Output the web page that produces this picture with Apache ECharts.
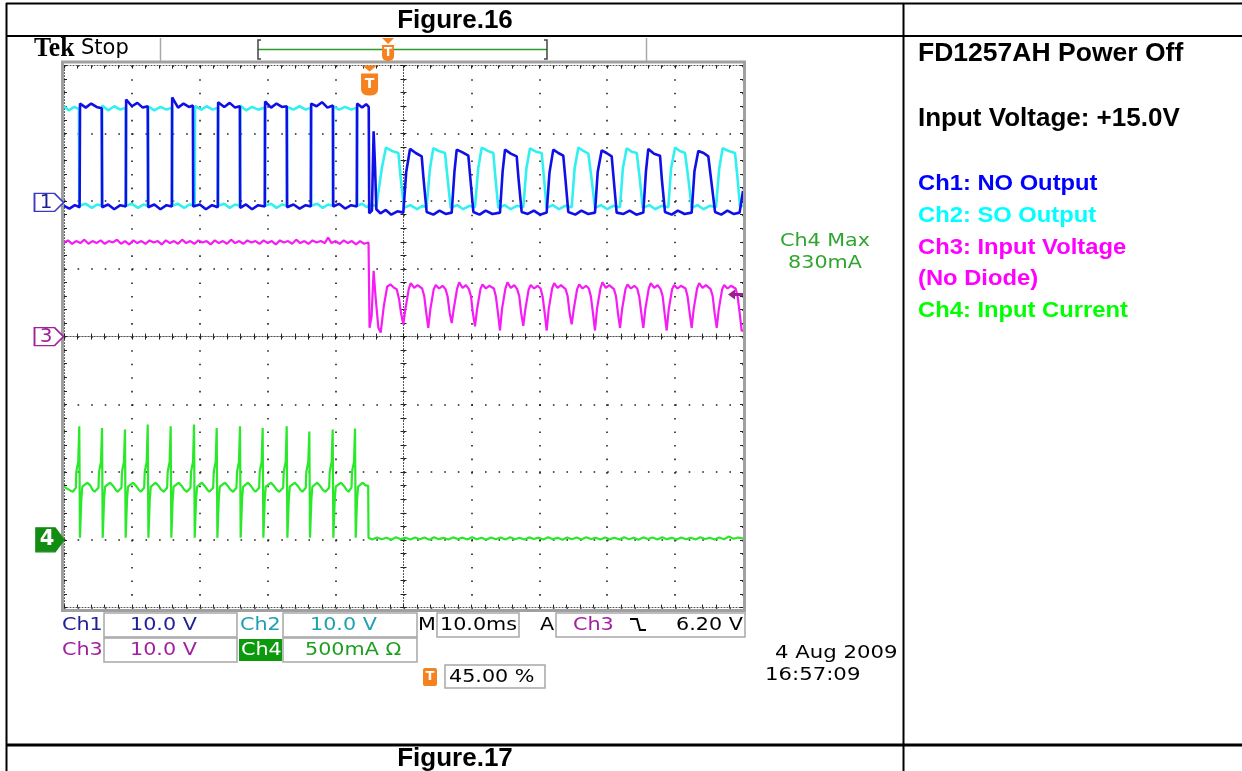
<!DOCTYPE html>
<html><head><meta charset="utf-8">
<script src="https://cdn.jsdelivr.net/npm/echarts@6/dist/echarts.min.js"></script>
<style>html,body{margin:0;padding:0;background:#fff;}#c{width:1242px;height:771px;}</style>
</head><body><div id="c"></div>
<script>
// ---------- scope settings ----------
const TIME_PER_DIV_MS = 10;
const TRIGGER_POSITION_PCT = 45;
const CH1_VOLTS_PER_DIV = 10, CH1_OFFSET_DIV = 1.98;
const CH2_VOLTS_PER_DIV = 10, CH2_OFFSET_DIV = 1.98;
const CH3_VOLTS_PER_DIV = 10, CH3_OFFSET_DIV = 0;
const CH4_MA_PER_DIV = 500, CH4_OFFSET_DIV = -3;
const CH3_TRIGGER_LEVEL_V = 6.20;

// ---------- traces: [time ms from left edge, value] ----------
const CH1_NO_OUTPUT = [
 [0,-0.5],[0.8,-0.9],[1.6,-0.4],[2.3,-0.7],[2.36,14.6],[3.2,14.0],[4.0,14.6],[4.8,14.1],[5.55,13.9],[5.62,-0.7],[6.5,-0.3],[7.4,-1.0],[8.3,-0.4],[9.1,-0.6],
 [9.15,15.2],[10.0,14.2],[10.8,14.7],[11.6,14.0],[12.33,14.2],[12.4,-0.7],[13.3,-0.3],[14.2,-1.0],[15.1,-0.4],[15.88,-0.6],
 [15.93,15.5],[16.8,14.0],[17.6,14.6],[18.4,14.1],[18.98,14.3],[19.03,-0.6],[20.0,-0.3],[20.9,-1.0],[21.8,-0.4],[22.65,-0.7],
 [22.7,14.8],[23.6,14.1],[24.4,14.7],[25.2,14.0],[25.9,14.2],[25.95,-0.8],[26.8,-0.3],[27.7,-1.0],[28.6,-0.4],[29.57,-0.6],
 [29.62,14.9],[30.5,14.0],[31.3,14.6],[32.1,14.1],[32.8,14.2],[32.86,-0.7],[33.8,-0.3],[34.7,-0.9],[35.6,-0.4],[36.35,-0.6],
 [36.4,14.6],[37.2,14.2],[38.0,14.8],[38.8,14.0],[39.6,14.3],[39.65,-0.6],[40.5,-0.2],[41.4,-0.9],[42.3,-0.4],[43.12,-0.6],
 [43.17,14.6],[43.9,14.0],[44.5,14.5],[44.88,14.1],
 [44.95,-1.6],[45.35,-1.2],[45.6,10.5],[45.8,5.5],[46.0,-1.0],[46.6,-1.6],[47.4,-1.1],[48.2,-1.8],[49.1,-1.3],[49.97,-1.5],
 [50.4,4.5],[50.96,7.9],[51.8,7.3],[52.68,6.8],[52.95,3.5],[53.41,-1.4],[54.4,-1.8],[55.3,-1.2],[56.2,-1.7],[57.1,-1.5],
 [57.5,4.5],[57.84,7.8],[58.7,7.4],[59.55,6.9],[59.85,3.5],[60.29,-1.4],[61.2,-1.8],[62.1,-1.2],[63.1,-1.7],[64.21,-1.5],
 [64.6,4.6],[64.95,7.8],[65.8,7.2],[66.67,6.8],[66.95,3.4],[67.4,-1.4],[68.3,-1.7],[69.2,-1.2],[70.1,-1.8],[71.08,-1.5],
 [71.5,4.4],[72.06,7.8],[72.8,7.3],[73.53,6.9],[73.85,3.4],[74.27,-1.4],[75.3,-1.8],[76.2,-1.2],[77.2,-1.7],[78.2,-1.5],
 [78.6,4.5],[79.19,7.7],[79.9,7.3],[80.66,6.8],[80.95,3.5],[81.39,-1.5],[82.4,-1.7],[83.3,-1.2],[84.3,-1.8],[85.32,-1.5],
 [85.7,4.5],[86.05,7.9],[86.9,7.2],[87.78,6.9],[88.05,3.4],[88.51,-1.4],[89.5,-1.8],[90.4,-1.2],[91.4,-1.7],[92.44,-1.5],
 [92.85,4.6],[93.42,7.6],[94.2,7.3],[94.89,6.8],[95.3,3.4],[95.88,-1.4],[96.8,-1.8],[97.7,-1.2],[98.6,-1.7],[99.5,-1.5],[100,1.7]
];
const CH2_SO_OUTPUT = [
 [0,14.2],[0.7,13.6],[1.5,14.1],[2.2,13.8],[2.25,-0.5],[3.2,-0.2],[4.1,-0.8],[4.9,-0.3],[5.58,-0.5],
 [5.63,14.3],[6.5,13.6],[7.4,14.2],[8.3,13.7],[9.1,14.0],[9.15,-0.5],[10.0,-0.2],[10.9,-0.8],[11.7,-0.3],[12.35,-0.5],
 [12.4,14.2],[13.3,13.6],[14.2,14.1],[15.1,13.7],[15.9,14.0],[15.95,-0.5],[16.8,-0.2],[17.7,-0.8],[18.5,-0.3],[19.25,-0.5],
 [19.3,14.2],[20.2,13.7],[21.0,14.2],[21.9,13.7],[22.66,14.0],[22.71,-0.5],[23.6,-0.2],[24.4,-0.8],[25.2,-0.3],[25.9,-0.5],
 [25.95,14.3],[26.8,13.6],[27.7,14.1],[28.6,13.7],[29.58,14.0],[29.63,-0.5],[30.5,-0.2],[31.3,-0.8],[32.1,-0.3],[32.82,-0.5],
 [32.87,14.1],[33.8,13.7],[34.7,14.2],[35.6,13.7],[36.36,14.0],[36.41,-0.5],[37.3,-0.2],[38.1,-0.8],[38.9,-0.3],[39.6,-0.5],
 [39.65,14.2],[40.5,13.7],[41.4,14.1],[42.3,13.7],[43.13,14.0],[43.18,-0.5],[43.9,-0.2],[44.6,-0.7],[45.3,-0.3],[46.0,-0.6],[46.29,-0.5],
 [46.8,5.0],[47.42,8.1],[48.3,7.6],[49.24,7.3],[49.6,3.5],[50.07,-0.8],[51.0,-0.4],[52.0,-1.0],[52.8,-0.5],[53.4,-0.7],
 [53.9,5.0],[54.39,8.0],[55.2,7.6],[56.11,7.3],[56.5,3.5],[56.95,-0.8],[57.9,-0.4],[58.8,-1.0],[59.7,-0.5],[60.53,-0.7],
 [61.0,5.0],[61.52,8.1],[62.4,7.6],[63.23,7.3],[63.55,3.5],[63.96,-0.8],[64.9,-0.4],[65.8,-1.0],[66.7,-0.5],[67.64,-0.7],
 [68.1,5.0],[68.63,8.0],[69.5,7.5],[70.35,7.3],[70.7,3.5],[71.08,-0.8],[72.0,-0.4],[72.9,-1.0],[73.8,-0.5],[74.77,-0.7],
 [75.2,5.0],[75.75,8.1],[76.5,7.6],[77.22,7.2],[77.7,3.5],[78.2,-0.8],[79.1,-0.4],[80.0,-1.0],[80.9,-0.5],[81.89,-0.7],
 [82.3,5.0],[82.87,8.0],[83.6,7.5],[84.35,7.3],[84.8,3.5],[85.23,-0.8],[86.2,-0.4],[87.1,-1.0],[88.0,-0.5],[89.0,-0.7],
 [89.4,5.0],[90.0,8.1],[90.7,7.6],[91.46,7.3],[91.95,3.5],[92.44,-0.8],[93.3,-0.4],[94.2,-1.0],[95.1,-0.5],[96.02,-0.7],
 [96.5,5.0],[97.0,8.0],[97.9,7.6],[98.82,7.3],[99.2,3.5],[99.56,-0.6],[100,-0.5]
];
const CH3_INPUT_VOLTAGE = [
 [0,13.9],[0.6,14.2],[1.2,13.7],[1.8,14.1],[2.4,13.8],[3.0,14.3],[3.6,13.7],[4.2,14.1],[4.8,13.8],[5.4,14.2],[6.0,13.7],[6.6,14.1],[7.2,13.9],[7.8,14.3],[8.4,13.7],[9.0,14.1],[9.6,13.6],[10.2,14.2],[10.8,13.8],[11.4,14.1],[12.0,13.7],[12.6,14.2],[13.2,13.9],[13.8,14.1],[14.4,13.6],[15.0,14.2],[15.6,13.8],[16.2,14.1],[16.8,13.7],[17.4,14.3],[18.0,13.8],[18.6,14.1],[19.2,13.7],[19.8,14.2],[20.4,13.9],[21.0,14.1],[21.6,13.6],[22.2,14.2],[22.8,13.8],[23.4,14.1],[24.0,13.7],[24.6,14.3],[25.2,13.8],[25.8,14.1],[26.4,13.7],[27.0,14.2],[27.6,13.9],[28.2,14.1],[28.8,13.7],[29.4,14.2],[30.0,13.8],[30.6,14.1],[31.2,13.6],[31.8,14.2],[32.4,13.9],[33.0,14.1],[33.6,13.7],[34.2,14.3],[34.8,13.8],[35.4,14.1],[36.0,13.7],[36.6,14.2],[37.2,13.9],[37.8,14.1],[38.4,13.8],[38.9,14.6],[39.4,13.8],[40.0,14.1],[40.6,13.7],[41.2,14.2],[41.8,13.8],[42.4,14.1],[43.0,13.6],[43.6,14.1],[44.2,13.7],[44.85,13.9],
 [45.0,1.3],[45.3,3.0],[45.6,9.7],[45.9,5.7],[46.3,1.3],[46.64,0.6],[47.1,4.5],[47.6,7.4],[48.1,7.7],[48.6,7.2],[49.0,7.0],[49.35,5.5],[49.65,3.4],[49.97,1.8],
 [50.27,4.0],[50.77,7.0],[51.07,7.9],[51.57,7.2],[52.07,7.6],[52.75,7.1],[53.05,6.0],[53.35,3.5],[53.65,1.3],
 [53.95,4.0],[54.45,7.0],[54.75,7.6],[55.25,7.1],[55.75,7.5],[56.2,7.0],[56.5,5.9],[56.8,3.5],[57.1,2.0],
 [57.4,4.1],[57.9,7.1],[58.2,8.0],[58.7,7.2],[59.2,7.6],[59.63,7.0],[59.93,6.0],[60.23,3.4],[60.53,1.5],
 [60.83,4.0],[61.33,7.0],[61.63,7.7],[62.13,7.1],[62.63,7.5],[63.31,7.1],[63.61,5.9],[63.91,3.5],[64.21,0.9],
 [64.51,4.1],[65.01,7.1],[65.31,8.0],[65.81,7.2],[66.31,7.6],[66.74,7.0],[67.04,6.0],[67.34,3.4],[67.64,1.6],
 [67.94,4.0],[68.44,7.0],[68.74,7.6],[69.24,7.1],[69.74,7.5],[70.19,7.1],[70.49,5.9],[70.79,3.5],[71.09,0.9],
 [71.39,4.1],[71.89,7.1],[72.19,7.9],[72.69,7.2],[73.19,7.6],[73.87,7.0],[74.17,6.0],[74.47,3.4],[74.77,1.8],
 [75.07,4.0],[75.57,7.0],[75.87,7.7],[76.37,7.1],[76.87,7.5],[77.3,7.1],[77.6,5.9],[77.9,3.5],[78.2,0.9],
 [78.5,4.1],[79.0,7.1],[79.3,8.0],[79.8,7.2],[80.3,7.6],[80.99,7.0],[81.29,6.0],[81.59,3.4],[81.89,1.3],
 [82.19,4.0],[82.69,7.0],[82.99,7.7],[83.49,7.1],[83.99,7.5],[84.42,7.1],[84.72,5.9],[85.02,3.5],[85.32,1.3],
 [85.62,4.1],[86.12,7.1],[86.42,7.9],[86.92,7.2],[87.42,7.6],[87.86,7.0],[88.16,6.0],[88.46,3.4],[88.76,0.9],
 [89.06,4.0],[89.56,7.0],[89.86,7.6],[90.36,7.1],[90.86,7.5],[91.54,7.1],[91.84,5.9],[92.14,3.5],[92.44,1.3],
 [92.74,4.1],[93.24,7.1],[93.54,7.9],[94.04,7.2],[94.54,7.6],[95.23,7.0],[95.53,6.0],[95.83,3.4],[96.13,1.3],
 [96.43,4.0],[96.93,7.0],[97.23,7.6],[97.73,7.1],[98.23,7.5],[98.91,7.1],[99.21,5.9],[99.51,3.5],[99.81,0.8],[100,1.0]
];
const CH4_INPUT_CURRENT = [
 [0,392],[0.4,380],[0.9,365],[1.3,355],[1.75,385],[1.81,503],[2.1,577],[2.25,838],[2.35,15],[2.55,296],[2.7,392],[3.45,422],[3.9,400],[4.2,370],[4.5,355],
 [5.08,385],[5.16,503],[5.45,577],[5.60,826],[5.70,15],[5.90,296],[6.05,392],[6.8,422],[7.2,400],[7.6,370],[7.9,355],
 [8.46,385],[8.54,503],[8.83,577],[8.98,814],[9.08,15],[9.28,296],[9.43,392],[10.2,422],[10.6,400],[11.0,370],[11.3,355],
 [11.81,385],[11.89,503],[12.18,577],[12.33,851],[12.43,15],[12.63,296],[12.78,392],[13.5,422],[13.9,400],[14.3,370],[14.7,355],
 [15.19,385],[15.27,503],[15.56,577],[15.71,838],[15.81,15],[16.0,296],[16.15,392],[16.9,422],[17.3,400],[17.7,370],[18.1,355],
 [18.63,385],[18.71,503],[19.0,577],[19.15,851],[19.25,15],[19.45,296],[19.6,392],[20.3,422],[20.7,400],[21.1,370],[21.4,355],
 [21.97,385],[22.05,503],[22.34,577],[22.49,826],[22.59,15],[22.79,296],[22.94,392],[23.7,422],[24.1,400],[24.5,370],[24.9,355],
 [25.40,385],[25.48,503],[25.77,577],[25.92,838],[26.02,15],[26.22,296],[26.37,392],[27.1,422],[27.5,400],[27.9,370],[28.2,355],
 [28.74,385],[28.82,503],[29.11,577],[29.26,826],[29.36,15],[29.56,296],[29.71,392],[30.5,422],[30.9,400],[31.3,370],[31.7,355],
 [32.28,385],[32.36,503],[32.65,577],[32.80,838],[32.90,15],[33.10,296],[33.25,392],[34.0,422],[34.4,400],[34.8,370],[35.1,355],
 [35.61,385],[35.69,503],[35.98,577],[36.13,799],[36.23,15],[36.43,296],[36.58,392],[37.3,422],[37.7,400],[38.1,370],[38.5,355],
 [39.05,385],[39.13,503],[39.42,577],[39.57,814],[39.67,15],[39.87,296],[40.02,392],[40.8,422],[41.2,400],[41.6,370],[41.9,355],
 [42.34,385],[42.42,503],[42.71,577],[42.86,821],[42.96,15],[43.16,296],[43.31,392],[44.0,422],[44.45,400],[44.65,412],[44.8,400],[44.85,15],
 [45.4,2],[46.1,18],[46.8,4],[47.5,16],[48.2,1],[48.9,19],[49.6,5],[50.3,15],[51.0,2],[51.7,18],[52.4,4],[53.1,17],[53.8,0],[54.5,19],[55.2,5],[55.9,15],[56.6,3],[57.3,18],[58.0,6],[58.7,16],[59.4,2],[60.1,19],[60.8,4],[61.5,15],[62.2,1],[62.9,18],[63.6,5],[64.3,17],[65.0,3],[65.7,19],[66.4,4],[67.1,15],[67.8,2],[68.5,18],[69.2,6],[69.9,16],[70.6,3],[71.3,19],[72.0,5],[72.7,15],[73.4,1],[74.1,18],[74.8,4],[75.5,17],[76.2,2],[76.9,19],[77.6,6],[78.3,15],[79.0,3],[79.7,18],[80.4,5],[81.1,16],[81.8,2],[82.5,19],[83.2,4],[83.9,15],[84.6,1],[85.3,18],[86.0,6],[86.7,17],[87.4,3],[88.1,19],[88.8,5],[89.5,15],[90.2,2],[90.9,18],[91.6,4],[92.3,16],[93.0,3],[93.7,19],[94.4,6],[95.1,15],[95.8,2],[96.5,18],[97.2,5],[97.9,24],[98.6,8],[99.3,17],[100,10]
];

// ---------- helpers ----------
const HALF_SPAN = 5 * TIME_PER_DIV_MS;
function toXY(arr, perDiv, offsetDiv) {
  return arr.map(p => [p[0] - HALF_SPAN, p[1] / perDiv + offsetDiv]);
}
const DOT = '#222';
function axis(dim, position, onZero, inside, withSplit) {
  const isX = dim === 'x';
  return {
    type: 'value', position: position,
    min: isX ? -HALF_SPAN : -4, max: isX ? HALF_SPAN : 4, interval: isX ? TIME_PER_DIV_MS : 1,
    axisLine: { show: true, onZero: onZero, lineStyle: { color: '#555', width: 1, type: [1, 2] } },
    axisTick: { show: true, inside: inside, length: 3, lineStyle: { color: DOT, width: 1 } },
    minorTick: { show: true, splitNumber: 5, length: 3, lineStyle: { color: DOT, width: 1 } },
    axisLabel: { show: false },
    splitLine: { show: withSplit, lineStyle: { color: DOT, width: 1.6, cap: 'butt', type: isX ? [1.6, 11.95] : [1.6, 11.98] } },
    minorSplitLine: { show: false },
    z: 1
  };
}
const SCOPE_FONT = '18px "DejaVu Sans"';
function txt(x, y, text, font, fill, align, sx) {
  return { type: 'text', x: x, y: y, scaleX: sx || 1, z: 50,
    style: { text: text, font: font, fill: fill, textAlign: align || 'left', textVerticalAlign: 'middle' } };
}
function ln(x1, y1, x2, y2, stroke, w) {
  return { type: 'line', z: 40, shape: { x1: x1, y1: y1, x2: x2, y2: y2 }, style: { stroke: stroke, lineWidth: w } };
}
function box(x, y, w, h, stroke, fill, lw, r) {
  return { type: 'rect', z: 40, shape: { x: x, y: y, width: w, height: h, r: r || 0 }, style: { stroke: stroke, fill: fill, lineWidth: lw } };
}
function poly(points, stroke, w) {
  return { type: 'polyline', z: 40, shape: { points: points }, style: { stroke: stroke, fill: null, lineWidth: w } };
}
const SX = 1.15;
const barL = 258, barR = 547, barT = barL + (barR - barL) * TRIGGER_POSITION_PCT / 100;

const graphics = [
  // table
  ln(6, 3.5, 1242, 3.5, '#000', 2), ln(6.5, 3, 6.5, 771, '#000', 2),
  ln(6, 36, 1242, 36, '#000', 2), ln(903.5, 3, 903.5, 771, '#000', 2),
  ln(6, 745, 1242, 745, '#000', 3),
  txt(455, 21, 'Figure.16', 'bold 26px "Liberation Sans"', '#000', 'center'),
  txt(455, 759, 'Figure.17', 'bold 26px "Liberation Sans"', '#000', 'center'),
  // right panel
  txt(918, 54, 'FD1257AH Power Off', 'bold 26px "Liberation Sans"', '#000', 'left', 1.02),
  txt(918, 119, 'Input Voltage: +15.0V', 'bold 26px "Liberation Sans"', '#000', 'left', 1.0),
  txt(918, 184, 'Ch1: NO Output', 'bold 22px "Liberation Sans"', '#0000ff', 'left', 1.08),
  txt(918, 216, 'Ch2: SO Output', 'bold 22px "Liberation Sans"', '#00ffff', 'left', 1.08),
  txt(918, 248, 'Ch3: Input Voltage', 'bold 22px "Liberation Sans"', '#ff00ff', 'left', 1.08),
  txt(918, 279, '(No Diode)', 'bold 22px "Liberation Sans"', '#ff00ff', 'left', 1.08),
  txt(918, 311, 'Ch4: Input Current', 'bold 22px "Liberation Sans"', '#00ff00', 'left', 1.08),
  // scope frame
  { type: 'rect', z: 5, shape: { x: 62.5, y: 62, width: 682, height: 548.5 }, style: { fill: null, stroke: '#a0a0a0', lineWidth: 3 } },
  // top bar
  txt(34, 49, 'Tek', 'bold 27px "Liberation Serif"', '#000', 'left', 0.95),
  txt(81, 49, 'Stop', '21px "DejaVu Sans"', '#000', 'left'),
  ln(160.5, 38, 160.5, 61, '#a8a8a8', 1.5), ln(646.5, 38, 646.5, 61, '#a8a8a8', 1.5),
  ln(barL, 49.5, barR, 49.5, '#2a9a2a', 1.5),
  poly([[barL + 3, 40], [barL, 40], [barL, 59], [barL + 3, 59]], '#444', 1.5),
  poly([[barR - 3, 40], [barR, 40], [barR, 59], [barR - 3, 59]], '#444', 1.5),
  { type: 'polygon', z: 41, shape: { points: [[barT - 6, 38], [barT + 6, 38], [barT, 44]] }, style: { fill: '#f5821f' } },
  box(barT - 6, 45, 12, 16, null, '#f5821f', 0, [0, 0, 5, 5]),
  txt(barT, 53, 'T', 'bold 12px "DejaVu Sans"', '#fff', 'center'),
  // readouts row 1
  txt(62, 625, 'Ch1', SCOPE_FONT, '#202098', 'left', SX),
  box(104, 613, 133, 24, '#a8a8a8', '#fff', 1.5),
  txt(130, 625, '10.0 V', SCOPE_FONT, '#202098', 'left', SX),
  txt(240, 625, 'Ch2', SCOPE_FONT, '#1fa0b0', 'left', SX),
  box(283, 613, 134, 24, '#a8a8a8', '#fff', 1.5),
  txt(310, 625, '10.0 V', SCOPE_FONT, '#1fa0b0', 'left', SX),
  txt(418, 625, 'M', SCOPE_FONT, '#000', 'left', SX),
  box(437, 613, 82, 24, '#a8a8a8', '#fff', 1.5),
  txt(440, 625, '10.0ms', SCOPE_FONT, '#000', 'left', SX),
  txt(540, 625, 'A', SCOPE_FONT, '#000', 'left', SX),
  box(556, 613, 189, 24, '#a8a8a8', '#fff', 1.5),
  txt(573, 625, 'Ch3', SCOPE_FONT, '#a0209e', 'left', SX),
  poly([[630, 619], [637, 619], [640, 630], [646, 630]], '#000', 2),
  txt(676, 625, '6.20 V', SCOPE_FONT, '#000', 'left', SX),
  // row 2
  txt(62, 650, 'Ch3', SCOPE_FONT, '#a0209e', 'left', SX),
  box(104, 638, 133, 24, '#a8a8a8', '#fff', 1.5),
  txt(130, 650, '10.0 V', SCOPE_FONT, '#a0209e', 'left', SX),
  box(239, 639, 43, 22, null, '#0b9a0b', 0),
  txt(241, 650, 'Ch4', SCOPE_FONT, '#fff', 'left', SX),
  box(283, 638, 134, 24, '#a8a8a8', '#fff', 1.5),
  txt(305, 650, '500mA Ω', SCOPE_FONT, '#1e9e1e', 'left', SX),
  // row 3
  box(423, 668, 14, 18, null, '#f5821f', 0, 2),
  txt(430, 677, 'T', 'bold 13px "DejaVu Sans"', '#fff', 'center'),
  box(445, 665, 100, 23, '#a8a8a8', '#fff', 1.5),
  txt(449, 677, '45.00 %', SCOPE_FONT, '#000', 'left', SX),
  txt(775, 653, '4 Aug 2009', SCOPE_FONT, '#000', 'left', 1.18),
  txt(765, 675, '16:57:09', SCOPE_FONT, '#000', 'left', 1.18),
  txt(825, 241, 'Ch4 Max', SCOPE_FONT, '#2fa52f', 'center', SX),
  txt(825, 263, '830mA', SCOPE_FONT, '#2fa52f', 'center', SX)
];

function gndMarker(label, offsetDiv, stroke, fill, textColor, big) {
  return {
    silent: true, animation: false,
    symbol: big ? 'path://M0,0 L19,0 L28,12 L19,24 L0,24 Z' : 'path://M0,0 L20,0 L29,9 L20,18 L0,18 Z',
    symbolSize: big ? [28, 24] : [29, 18],
    symbolOffset: big ? [-14, 0] : [-15, 0],
    itemStyle: { color: fill, borderColor: stroke, borderWidth: 1.5 },
    label: { show: true, formatter: label, position: 'inside', offset: [-3, 0], color: textColor,
             fontSize: big ? 21 : 20, fontWeight: big ? 'bold' : 'normal', fontFamily: 'DejaVu Sans' },
    data: [{ coord: [-HALF_SPAN, offsetDiv] }]
  };
}

const chart = echarts.init(document.getElementById('c'), null, { renderer: 'canvas' });
const ch3Marker = gndMarker('3', CH3_OFFSET_DIV, '#a0209e', '#fff', '#a0209e', false);
ch3Marker.data.push({
  coord: [HALF_SPAN, CH3_TRIGGER_LEVEL_V / CH3_VOLTS_PER_DIV + CH3_OFFSET_DIV],
  symbol: 'path://M0,5 L7,0 L7,3.5 L15,3.5 L15,6.5 L7,6.5 L7,10 Z',
  symbolSize: [15, 10], symbolOffset: [-7.5, 0],
  itemStyle: { color: '#9b1f8f', borderWidth: 0 }, label: { show: false }
});
chart.setOption({
  animation: false,
  backgroundColor: '#fff',
  grid: { left: 64, top: 65.6, width: 679, height: 542, show: false, containLabel: false, outerBoundsMode: 'none' },
  xAxis: [
    axis('x', 'bottom', false, true, true),
    axis('x', 'top', false, true, false),
    axis('x', 'bottom', true, true, false),
    axis('x', 'bottom', true, false, false)
  ],
  yAxis: [
    axis('y', 'left', false, true, true),
    axis('y', 'right', false, true, false),
    axis('y', 'left', true, true, false),
    axis('y', 'left', true, false, false)
  ],
  series: [
    { type: 'line', name: 'Ch2', data: toXY(CH2_SO_OUTPUT, CH2_VOLTS_PER_DIV, CH2_OFFSET_DIV), symbol: 'none', clip: false, z: 3,
      lineStyle: { color: '#33f0f0', width: 2.6 },
      markPoint: { silent: true, animation: false,
        symbol: 'path://M1,0 L15,0 L8,6 Z M0,8 L16,8 L16,24 Q16,30 8,30 Q0,30 0,24 Z',
        symbolSize: [17, 30], symbolOffset: [0, 15],
        itemStyle: { color: '#f5821f' },
        label: { show: true, formatter: 'T', position: 'inside', offset: [0, 4], color: '#fff', fontSize: 14, fontWeight: 'bold', fontFamily: 'DejaVu Sans' },
        data: [{ coord: [TRIGGER_POSITION_PCT / 100 * 2 * HALF_SPAN - HALF_SPAN, 4] }] } },
    { type: 'line', name: 'Ch1', data: toXY(CH1_NO_OUTPUT, CH1_VOLTS_PER_DIV, CH1_OFFSET_DIV), symbol: 'none', clip: false, z: 4,
      lineStyle: { color: '#1010e6', width: 2.6 },
      markPoint: gndMarker('1', CH1_OFFSET_DIV, '#3a3ac4', '#fff', '#1e1e96', false) },
    { type: 'line', name: 'Ch3', data: toXY(CH3_INPUT_VOLTAGE, CH3_VOLTS_PER_DIV, CH3_OFFSET_DIV), symbol: 'none', clip: false, z: 3,
      lineStyle: { color: '#f51cf5', width: 2.2 },
      markPoint: ch3Marker },
    { type: 'line', name: 'Ch4', data: toXY(CH4_INPUT_CURRENT, CH4_MA_PER_DIV, CH4_OFFSET_DIV), symbol: 'none', clip: false, z: 3,
      lineStyle: { color: '#2ae82a', width: 2.2 },
      markPoint: gndMarker('4', CH4_OFFSET_DIV, '#128c12', '#128c12', '#fff', true) }
  ],
  graphic: { elements: graphics }
});
</script></body></html>
